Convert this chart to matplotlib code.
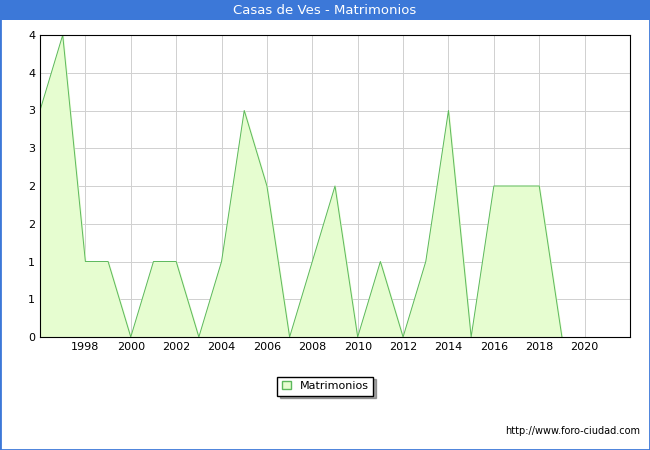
import matplotlib
matplotlib.use("Agg")
import matplotlib.pyplot as plt
from matplotlib.patches import Rectangle

years = list(range(1996, 2020))
matrimonios = [3, 4, 1, 1, 0, 1, 1, 0, 1, 3, 2, 0, 1, 2, 0, 1, 0, 1, 3, 0, 2, 2, 2, 0]
yticks = [0, 0.5, 1, 1.5, 2, 2.5, 3, 3.5, 4]
ylabels = ["0", "1", "1", "2", "2", "3", "3", "4", "4"]

fig = plt.figure(figsize=(6.5, 4.5), dpi=100)
fig.patches.append(Rectangle((0, 0), 1, 1, transform=fig.transFigure, fill=False,
                             edgecolor="#3c78d8", lw=2))
fig.patches.append(Rectangle((0, 0.955), 1, 0.045, transform=fig.transFigure,
                             facecolor="#3c78d8", edgecolor="none"))
fig.text(0.5, 0.977, "Casas de Ves - Matrimonios", color="white", ha="center",
         va="center", fontsize=9.5)

ax = fig.add_axes([40 / 650, 1 - 337 / 450, 590 / 650, 302 / 450])
ax.fill_between(years, matrimonios, color="#e6fdd0")
ax.plot(years, matrimonios, color="#5cb85c", lw=0.7)
ax.set_xlim(1996, 2022)
ax.set_ylim(0, 4)
ax.set_xticks(range(1998, 2021, 2))
ax.set_yticks(yticks)
ax.set_yticklabels(ylabels)
ax.tick_params(labelsize=8, length=0)
ax.grid(True, color="#d0d0d0", lw=0.7)
ax.set_axisbelow(True)

handle = Rectangle((0, 0), 1, 1, facecolor="#e6fdd0", edgecolor="#5cb85c")
fig.legend(handles=[handle], labels=["Matrimonios"], loc="center",
           bbox_to_anchor=(0.5, 1 - 386 / 450), fontsize=8, fancybox=False,
           shadow=True, edgecolor="black", handlelength=0.8, handleheight=0.8)
fig.text(0.985, 0.035, "http://www.foro-ciudad.com", ha="right", fontsize=7)

fig.savefig("out.png", dpi=100)
